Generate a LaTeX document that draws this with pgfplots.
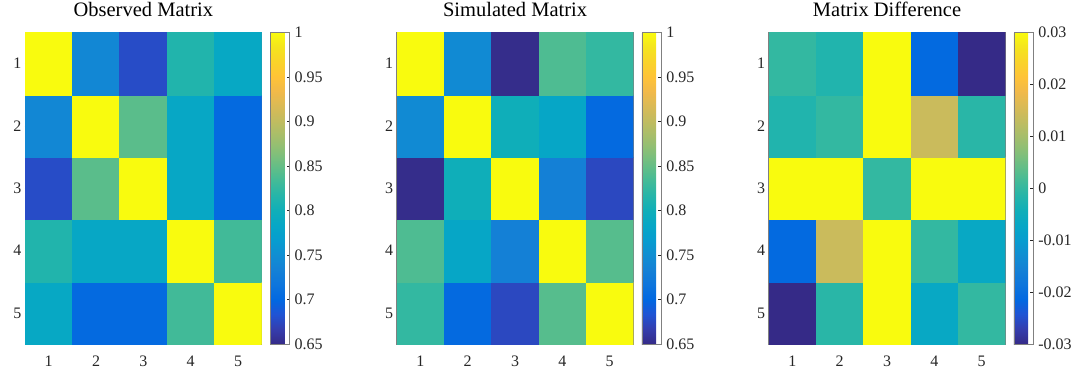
\documentclass[border=0pt]{standalone}
\usepackage{pgfplots}
\usepackage{pgfplotstable}
\pgfplotsset{compat=1.18}
\usepackage{fontspec}
\setmainfont{Liberation Serif}
\definecolor{ticktxt}{RGB}{38,38,38}
\definecolor{boxgray}{RGB}{128,128,128}
\pgfplotsset{
  colormap={parula}{
    rgb=(0.2081,0.1663,0.5292) rgb=(0.2081,0.2386,0.6771) rgb=(0.1253,0.3242,0.8303)
    rgb=(0.0060,0.4086,0.8828) rgb=(0.0498,0.4586,0.8641) rgb=(0.0779,0.5040,0.8384)
    rgb=(0.0641,0.5570,0.8240) rgb=(0.0265,0.6137,0.8135) rgb=(0.0228,0.6535,0.7768)
    rgb=(0.0590,0.6838,0.7254) rgb=(0.1453,0.7098,0.6646) rgb=(0.2586,0.7317,0.5954)
    rgb=(0.3953,0.7459,0.5244) rgb=(0.5300,0.7491,0.4661) rgb=(0.6473,0.7456,0.4188)
    rgb=(0.7525,0.7384,0.3768) rgb=(0.8507,0.7299,0.3360) rgb=(0.9450,0.7261,0.2886)
    rgb=(0.9990,0.7653,0.2164) rgb=(0.9789,0.8271,0.1633) rgb=(0.9589,0.8949,0.1132)
    rgb=(0.9763,0.9831,0.0538)
  },
}
% x = column, y = 6 - row (row 1 drawn at top)
\pgfplotstableread{
x y c
1 1 0.786
2 1 0.703
3 1 0.703
4 1 0.833
5 1 1
1 2 0.814
2 2 0.785
3 2 0.785
4 2 1
5 2 0.833
1 3 0.678
2 3 0.845
3 3 1
4 3 0.785
5 3 0.703
1 4 0.741
2 4 1
3 4 0.845
4 4 0.785
5 4 0.703
1 5 1
2 5 0.741
3 5 0.678
4 5 0.814
5 5 0.786
}\obstab
\pgfplotstableread{
x y c
1 1 0.825
2 1 0.703
3 1 0.675
4 1 0.843
5 1 1
1 2 0.839
2 2 0.783
3 2 0.733
4 2 1
5 2 0.843
1 3 0.652
2 3 0.800
3 3 1
4 3 0.733
5 3 0.675
1 4 0.745
2 4 1
3 4 0.800
4 4 0.783
5 4 0.703
1 5 1
2 5 0.745
3 5 0.652
4 5 0.839
5 5 0.825
}\simtab
\pgfplotstableread{
x y c
1 1 -0.03
2 1 -0.001
3 1 0.03
4 1 -0.0066
5 1 0
1 2 -0.021
2 2 0.014
3 2 0.03
4 2 0
5 2 -0.0066
1 3 0.03
2 3 0.03
3 3 0
4 3 0.03
5 3 0.03
1 4 -0.002
2 4 0
3 4 0.03
4 4 0.014
5 4 -0.001
1 5 0
2 5 -0.002
3 5 0.03
4 5 -0.021
5 5 -0.03
}\diftab
\pgfplotsset{
  hm/.style={
    scale only axis, width=236.7pt, height=312pt,
    xmin=0.5, xmax=5.5, ymin=0.5, ymax=5.5,
    xtick={1,2,3,4,5}, xticklabels={1,2,3,4,5},
    ytick={1,2,3,4,5}, yticklabels={5,4,3,2,1},
    tick align=inside, major tick length=3pt,
    tick style={color=ticktxt, line width=0.6pt},
    axis line style={color=boxgray, line width=0.8pt},
    tick label style={font=\fontsize{16}{16}\selectfont, color=ticktxt},
    xticklabel style={anchor=base, yshift=-22pt},
    title style={font=\fontsize{20.5}{20.5}\selectfont, at={(0.5,1)}, anchor=base, yshift=10pt},
    colormap name=parula,
    colorbar,
  },
  cbbase/.style={
    scale only axis, width=19.3pt, height=312pt,
    at={(parent axis.north east)}, anchor=north west,
    ytick pos=right, yticklabel pos=right,
    scaled y ticks=false,
    tick align=inside, major tick length=3pt,
    tick style={color=ticktxt, line width=0.6pt},
    axis line style={color=boxgray, line width=0.8pt},
    yticklabel style={font=\fontsize{16}{16}\selectfont, color=ticktxt, xshift=1.5pt},
  },
}
\begin{document}
\begin{tikzpicture}
\path[use as bounding box] (0,0) rectangle (1078pt,375pt);
\begin{axis}[hm, at={(25pt,30.7pt)}, anchor=south west,
  title={Observed Matrix},
  point meta min=0.65, point meta max=1,
  colorbar style={cbbase,
    ytick={0.65,0.7,0.75,0.8,0.85,0.9,0.95,1},
    yticklabels={0.65,0.7,0.75,0.8,0.85,0.9,0.95,1}}]
\addplot[matrix plot*, mesh/cols=5, point meta=explicit] table[x=x, y=y, meta=c] {\obstab};
\end{axis}
\begin{axis}[hm, at={(396.7pt,30.7pt)}, anchor=south west,
  title={Simulated Matrix},
  point meta min=0.65, point meta max=1,
  colorbar style={cbbase,
    ytick={0.65,0.7,0.75,0.8,0.85,0.9,0.95,1},
    yticklabels={0.65,0.7,0.75,0.8,0.85,0.9,0.95,1}}]
\addplot[matrix plot*, mesh/cols=5, point meta=explicit] table[x=x, y=y, meta=c] {\simtab};
\end{axis}
\begin{axis}[hm, at={(768.7pt,30.7pt)}, anchor=south west,
  title={Matrix Difference},
  point meta min=-0.03, point meta max=0.03,
  colorbar style={cbbase,
    ytick={-0.03,-0.02,-0.01,0,0.01,0.02,0.03},
    yticklabels={-0.03,-0.02,-0.01,0,0.01,0.02,0.03}}]
\addplot[matrix plot*, mesh/cols=5, point meta=explicit] table[x=x, y=y, meta=c] {\diftab};
\end{axis}
\end{tikzpicture}
\end{document}
